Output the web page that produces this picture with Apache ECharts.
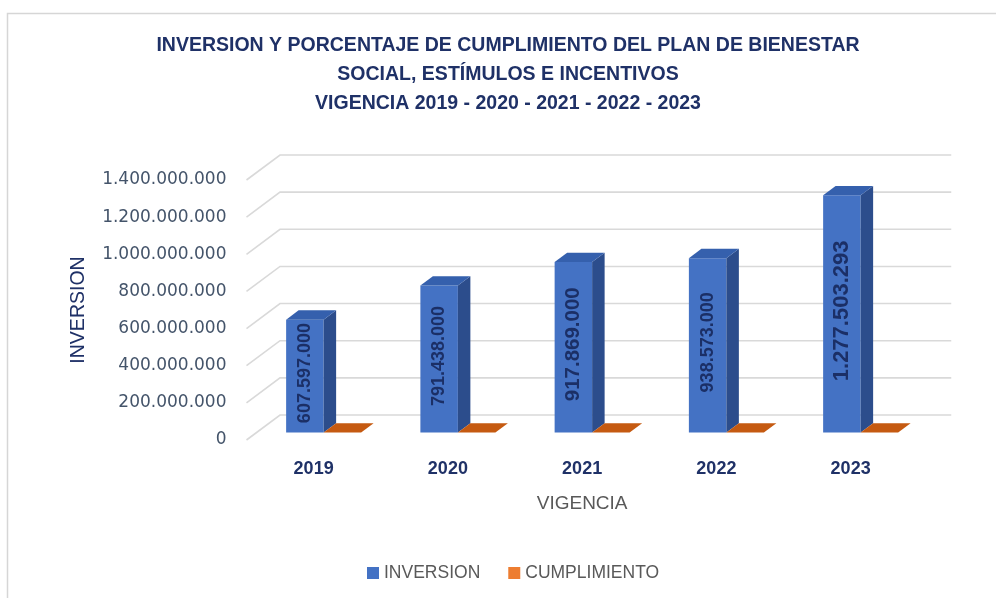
<!DOCTYPE html>
<html><head><meta charset="utf-8">
<script src="https://cdn.jsdelivr.net/npm/echarts@6/dist/echarts.min.js"></script>
<style>html,body{margin:0;padding:0;background:#fff}#c{width:996px;height:598px}</style>
</head><body><div id="c"></div>
<script>
var categories = ['2019', '2020', '2021', '2022', '2023'];
var inversion = [607597000, 791438000, 917869000, 938573000, 1277503293];
var cumplimiento = [100, 100, 100, 100, 100];
var yTicks = [0, 200000000, 400000000, 600000000, 800000000, 1000000000, 1200000000, 1400000000];
var titleLines = [
  'INVERSION Y PORCENTAJE DE CUMPLIMIENTO DEL PLAN DE BIENESTAR',
  'SOCIAL, ESTÍMULOS E INCENTIVOS',
  'VIGENCIA 2019 - 2020 - 2021 - 2022 - 2023'
];

var labelSizes = [18, 18, 20.5, 18, 22];
var WALL_DX = 33.5, WALL_DY = 25;

function fmt(v) { return String(Math.round(v)).replace(/\B(?=(\d{3})+(?!\d))/g, '.'); }

function bar3d(side, front, top, sideCol, withLabel) {
  return function (params, api) {
    var i = api.value(0), v = api.value(1);
    var b = api.coord([i, 0]), t = api.coord([i, v]);
    var slot = api.size([1, 0])[0];
    var w = slot * 0.2793, dx = w / 3, dy = w / 4;
    var xl = side < 0 ? b[0] - w : b[0], xr = xl + w;
    var yb = b[1], yt = t[1];
    var ch = [];
    if (yb - yt > 0.5) {
      ch.push({ type: 'rect', shape: { x: xl, y: yt, width: w, height: yb - yt }, style: { fill: front } });
      ch.push({ type: 'polygon', shape: { points: [[xr, yt], [xr + dx, yt - dy], [xr + dx, yb - dy], [xr, yb]] }, style: { fill: sideCol } });
    }
    ch.push({ type: 'polygon', shape: { points: [[xl, yt], [xl + dx, yt - dy], [xr + dx, yt - dy], [xr, yt]] }, style: { fill: top } });
    if (withLabel) {
      ch.push({
        type: 'text', x: xl + w / 2, y: (yt + yb) / 2 - 3, rotation: Math.PI / 2,
        style: { text: fmt(v), fill: '#1b2f66', font: 'bold ' + labelSizes[i] + 'px "Liberation Sans", Arial, sans-serif', align: 'center', verticalAlign: 'middle' }
      });
    }
    return { type: 'group', children: ch };
  };
}

var chart = echarts.init(document.getElementById('c'));
var graphics = [
  { type: 'rect', shape: { x: 7.5, y: 13.5, width: 1000, height: 600 }, style: { fill: null, stroke: '#d6d6d6', lineWidth: 1.5 }, silent: true }
];
var titleY = [46, 75, 104];
titleLines.forEach(function (t, k) {
  graphics.push({ type: 'text', x: 508, y: titleY[k], style: { text: t, fill: '#1f3167', font: 'bold 19.5px "Liberation Sans", Arial, sans-serif', align: 'center', verticalAlign: 'middle' }, silent: true });
});

chart.setOption({
  animation: false,
  backgroundColor: '#fff',
  graphic: graphics,
  legend: {
    left: 362, top: 559, itemWidth: 12, itemHeight: 12, itemGap: 28, icon: 'rect',
    textStyle: { color: '#595959', fontSize: 17.5, fontFamily: '"Liberation Sans", Arial, sans-serif', padding: [0, 0, 0, 0] },
    data: ['INVERSION', 'CUMPLIMIENTO']
  },
  grid: [
    { left: 246.5, top: 180, width: 671.25, height: 260 },
    { left: 256.5, top: 172.5, width: 671.25, height: 260 }
  ],
  xAxis: [
    { type: 'category', gridIndex: 0, data: categories,
      axisLine: { show: false }, axisTick: { show: false }, splitLine: { show: false },
      axisLabel: { margin: 20, color: '#1f3167', fontWeight: 'bold', fontSize: 18, fontFamily: '"Liberation Sans", Arial, sans-serif' },
      name: 'VIGENCIA', nameLocation: 'middle', nameGap: 54,
      nameTextStyle: { color: '#595959', fontSize: 19, fontFamily: '"Liberation Sans", Arial, sans-serif' } },
    { type: 'category', gridIndex: 1, data: categories, show: false }
  ],
  yAxis: [
    { type: 'value', gridIndex: 0, min: 0, max: 1400000000, interval: 200000000,
      axisLine: { show: false }, axisTick: { show: false }, splitLine: { show: false },
      axisLabel: { margin: 20, color: '#44546a', fontSize: 17, fontFamily: '"DejaVu Sans", sans-serif', formatter: fmt, padding: [3, 0, 0, 0] },
      name: 'INVERSION', nameLocation: 'middle', nameGap: 158, nameRotate: 90,
      nameTextStyle: { color: '#1f3167', fontSize: 19.5, fontFamily: '"Liberation Sans", Arial, sans-serif' } },
    { type: 'value', gridIndex: 1, min: 0, max: 1400000000, interval: 200000000, show: false }
  ],
  series: [
    { type: 'custom', name: 'walls', xAxisIndex: 0, yAxisIndex: 0, silent: true, z: 1,
      data: yTicks.map(function (v) { return [0, v]; }),
      renderItem: function (params, api) {
        var cs = params.coordSys;
        var y = api.coord([0, api.value(1)])[1];
        return { type: 'polyline', silent: true,
          shape: { points: [[cs.x, y], [cs.x + WALL_DX, y - WALL_DY], [cs.x + cs.width + WALL_DX, y - WALL_DY]] },
          style: { stroke: '#d9d9d9', lineWidth: 1.6, fill: null } };
      } },
    { type: 'custom', name: 'INVERSION', xAxisIndex: 1, yAxisIndex: 1, z: 3,
      itemStyle: { color: '#4472c4' },
      data: inversion.map(function (v, i) { return [i, v]; }),
      renderItem: bar3d(-1, '#4472c4', '#3560ad', '#2c4d8c', true) },
    { type: 'custom', name: 'CUMPLIMIENTO', xAxisIndex: 1, yAxisIndex: 1, z: 3,
      itemStyle: { color: '#ed7d31' },
      data: cumplimiento.map(function (v, i) { return [i, v]; }),
      renderItem: bar3d(1, '#ed7d31', '#c55a11', '#a94c0e', false) }
  ]
});
</script></body></html>
